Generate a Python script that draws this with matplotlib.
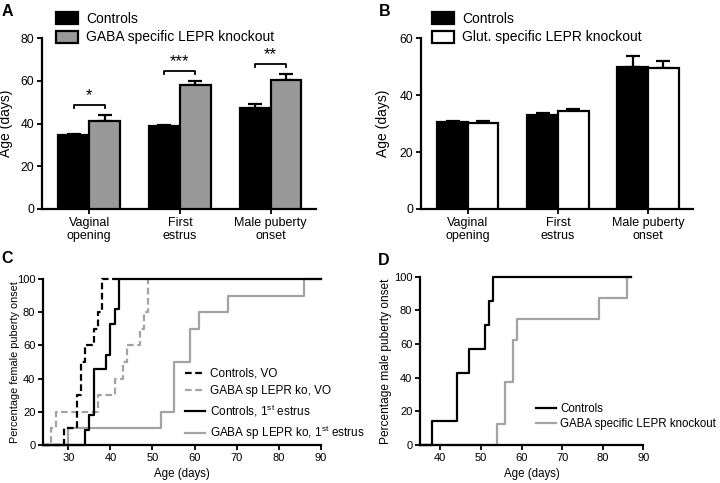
import matplotlib
matplotlib.use("Agg")
import matplotlib.pyplot as plt
import numpy as np

plt.rcParams['font.family'] = ['Liberation Sans', 'DejaVu Sans']
plt.rcParams['mathtext.fontset'] = 'custom'
plt.rcParams['mathtext.rm'] = 'Liberation Sans'
plt.rcParams['mathtext.it'] = 'Liberation Sans:italic'

# ---- data ----
categories = ["Vaginal\nopening", "First\nestrus", "Male puberty\nonset"]

a_ctrl = [34.6, 38.8, 47.4]
a_ctrl_err = [0.7, 0.6, 1.8]
a_ko = [41.3, 58.0, 60.2]
a_ko_err = [2.7, 1.9, 3.1]
a_stars = ["*", "***", "**"]

b_ctrl = [30.5, 33.0, 50.0]
b_ctrl_err = [0.5, 0.7, 3.6]
b_ko = [30.3, 34.3, 49.5]
b_ko_err = [0.5, 0.8, 2.4]

c_ctrl_vo_t = [24, 29, 32, 33, 34, 36, 37, 38, 42]
c_ctrl_vo_p = [0, 10, 30, 50, 60, 70, 80, 100, 100]
c_ko_vo_t = [24, 26, 27, 37, 41, 43, 44, 47, 48, 49]
c_ko_vo_p = [0, 10, 20, 30, 40, 50, 60, 70, 80, 100]
c_ctrl_es_t = [24, 34, 35, 36, 39, 40, 41, 42, 90]
c_ctrl_es_p = [0, 9.1, 18.2, 45.5, 54.5, 72.7, 81.8, 100, 100]
c_ko_es_t = [24, 30, 52, 55, 59, 61, 68, 86, 90]
c_ko_es_p = [0, 10, 20, 50, 70, 80, 90, 100, 100]

d_ctrl_t = [35, 38, 44, 47, 51, 52, 53, 87]
d_ctrl_p = [0, 14.3, 42.9, 57.1, 71.4, 85.7, 100, 100]
d_ko_t = [35, 54, 56, 58, 59, 79, 86, 87]
d_ko_p = [0, 12.5, 37.5, 62.5, 75, 87.5, 100, 100]

GRAY_BAR = '#999999'
GRAY_LINE = '#a3a3a3'
LW = 1.6

fig = plt.figure(figsize=(7.2, 4.83), dpi=100)
axA = fig.add_axes([0.0583, 0.5673, 0.3806, 0.354])
axB = fig.add_axes([0.5847, 0.5673, 0.3778, 0.354])
axC = fig.add_axes([0.0597, 0.0787, 0.3861, 0.3437])
axD = fig.add_axes([0.5833, 0.0787, 0.3104, 0.3484])


def style(ax, tick_fs):
    for s in ['top', 'right']:
        ax.spines[s].set_visible(False)
    for s in ['left', 'bottom']:
        ax.spines[s].set_linewidth(LW)
    ax.tick_params(direction='out', length=3.5, width=1.3, labelsize=tick_fs, pad=2)


def bars(ax, ctrl, ctrl_err, ko, ko_err, ko_color, ylim, yticks, ko_label):
    x = np.arange(len(categories))
    w = 0.34
    b1 = ax.bar(x - w / 2, ctrl, w, color='black', edgecolor='black', linewidth=LW,
                label='Controls', zorder=3)
    b2 = ax.bar(x + w / 2, ko, w, color=ko_color, edgecolor='black', linewidth=LW,
                label=ko_label, zorder=3)
    ax.errorbar(x - w / 2, ctrl, yerr=[np.zeros(len(x)), ctrl_err], fmt='none',
                ecolor='black', elinewidth=LW, capsize=5, capthick=LW, zorder=2)
    ax.errorbar(x + w / 2, ko, yerr=[np.zeros(len(x)), ko_err], fmt='none',
                ecolor='black', elinewidth=LW, capsize=5, capthick=LW, zorder=2)
    ax.set_xlim(-0.52, 2.5)
    ax.set_ylim(*ylim)
    ax.set_yticks(yticks)
    ax.set_xticks(x)
    ax.set_xticklabels(categories, fontsize=9)
    ax.set_ylabel('Age (days)', fontsize=10)
    style(ax, 8.7)
    ax.tick_params(axis='x', labelsize=9)
    return b1, b2


hA = bars(axA, a_ctrl, a_ctrl_err, a_ko, a_ko_err, GRAY_BAR, (0, 80), [0, 20, 40, 60, 80],
          'GABA specific LEPR knockout')
axA.legend(loc='upper left', bbox_to_anchor=(0.05, 1.155), frameon=False, fontsize=10,
           handlelength=1.6, handleheight=0.95, handletextpad=0.6, labelspacing=0.35,
           borderpad=0, borderaxespad=0)
axA.yaxis.set_label_coords(-0.104, 0.5)

# significance brackets
w = 0.34
for i, star in enumerate(a_stars):
    top = max(a_ctrl[i] + a_ctrl_err[i], a_ko[i] + a_ko_err[i]) + 4.7
    axA.plot([i - w / 2, i - w / 2, i + w / 2, i + w / 2],
             [top - 1.6, top, top, top - 1.6], color='black', lw=1.3, clip_on=False)
    axA.text(i, top + 0.8, star, ha='center', va='bottom', fontsize=12)

hB = bars(axB, b_ctrl, b_ctrl_err, b_ko, b_ko_err, 'white', (0, 60), [0, 20, 40, 60],
          'Glut. specific LEPR knockout')
axB.legend(loc='upper left', bbox_to_anchor=(0.04, 1.155), frameon=False, fontsize=10,
           handlelength=1.6, handleheight=0.95, handletextpad=0.6, labelspacing=0.35,
           borderpad=0, borderaxespad=0)
axB.yaxis.set_label_coords(-0.114, 0.5)

# ---- C ----
dash = (0, (3, 1.6))
l2, = axC.step(c_ko_vo_t, c_ko_vo_p, where='post', color=GRAY_LINE, lw=LW, ls=dash,
               label='GABA sp LEPR ko, VO', clip_on=False)
l4, = axC.step(c_ko_es_t, c_ko_es_p, where='post', color=GRAY_LINE, lw=LW,
               label='GABA sp LEPR ko, 1$^{\\mathrm{st}}$ estrus', clip_on=False)
l1, = axC.step(c_ctrl_vo_t, c_ctrl_vo_p, where='post', color='black', lw=LW, ls=dash,
               label='Controls, VO', clip_on=False)
l3, = axC.step(c_ctrl_es_t, c_ctrl_es_p, where='post', color='black', lw=LW,
               label='Controls, 1$^{\\mathrm{st}}$ estrus', clip_on=False)
axC.set_xlim(24, 90)
axC.set_ylim(0, 100)
axC.set_xticks([30, 40, 50, 60, 70, 80, 90])
axC.set_yticks([0, 20, 40, 60, 80, 100])
style(axC, 8)
axC.set_xlabel('Age (days)', fontsize=8.3, labelpad=4)
axC.set_ylabel('Percentage female puberty onset', fontsize=7.8)
axC.yaxis.set_label_coords(-0.083, 0.5)
leg = axC.legend(handles=[l1, l2, l3, l4], loc='upper left', bbox_to_anchor=(0.51, 0.465),
                 frameon=False, fontsize=8.5, handlelength=1.7, handletextpad=0.4,
                 labelspacing=0.45, borderpad=0, borderaxespad=0)

# ---- D ----
m2, = axD.step(d_ko_t, d_ko_p, where='post', color=GRAY_LINE, lw=LW,
               label='GABA specific LEPR knockout', clip_on=False)
m1, = axD.step(d_ctrl_t, d_ctrl_p, where='post', color='black', lw=LW, label='Controls',
               clip_on=False)
axD.set_xlim(35, 90)
axD.set_ylim(0, 100)
axD.set_xticks([40, 50, 60, 70, 80, 90])
axD.set_yticks([0, 20, 40, 60, 80, 100])
style(axD, 8)
axD.set_xlabel('Age (days)', fontsize=8.3, labelpad=4)
axD.set_ylabel('Percentage male puberty onset', fontsize=8.6)
axD.yaxis.set_label_coords(-0.127, 0.5)
axD.legend(handles=[m1, m2], loc='upper left', bbox_to_anchor=(0.52, 0.25),
           frameon=False, fontsize=8.3, handlelength=1.7, handletextpad=0.4,
           labelspacing=0.3, borderpad=0, borderaxespad=0)

for lab, x, y in [('A', 2, 4), ('B', 379, 4), ('C', 1, 251), ('D', 378, 253)]:
    fig.text(x / 720, 1 - y / 483, lab, fontsize=11.5, fontweight='bold', va='top', ha='left')

fig.savefig('out.png', dpi=100)
